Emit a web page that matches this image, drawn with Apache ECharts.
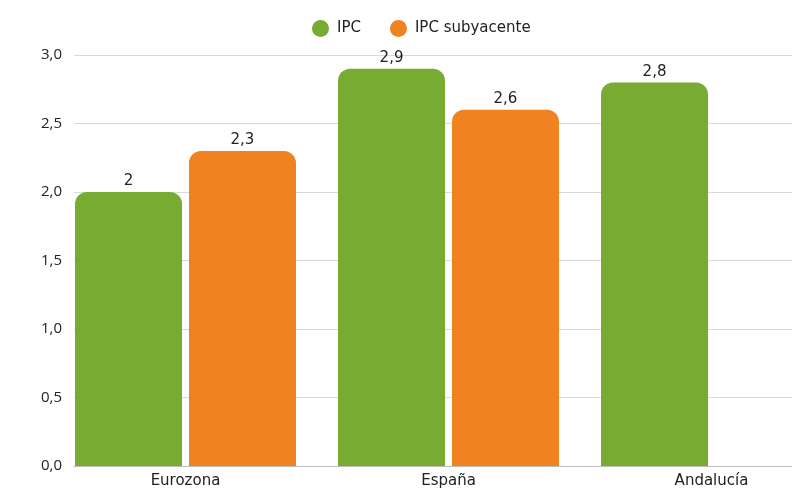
<!DOCTYPE html>
<html><head><meta charset="utf-8">
<script src="https://cdn.jsdelivr.net/npm/echarts@6/dist/echarts.min.js"></script>
<style>html,body{margin:0;padding:0;background:#fff}#c{width:792px;height:488px}</style>
</head><body><div id="c"></div>
<script>
const categories = ['Eurozona', 'España', 'Andalucía'];
const ipc = [2, 2.9, 2.8];
const subyacente = [2.3, 2.6, null];
const yTicks = { min: 0, max: 3, interval: 0.5 };

const chart = echarts.init(document.getElementById('c'), null, { renderer: 'canvas' });
const comma = v => String(v).replace('.', ',');
const labelCfg = {
  show: true, position: 'top', distance: 3,
  fontFamily: 'DejaVu Sans', fontSize: 15, color: '#222',
  formatter: p => comma(p.value)
};
chart.setOption({
  animation: false,
  legend: {
    left: 307, top: 15, icon: 'circle', itemWidth: 17, itemHeight: 17, itemGap: 29,
    textStyle: { fontFamily: 'DejaVu Sans', fontSize: 15, color: '#222', padding: [0, 0, 0, 3] },
    data: ['IPC', 'IPC subyacente']
  },
  grid: [
    { left: 54, width: 789, top: 55, bottom: 22, outerBoundsMode: 'none', containLabel: false },
    { left: 74, right: 0, top: 55, bottom: 22, outerBoundsMode: 'none', containLabel: false }
  ],
  xAxis: [
    { gridIndex: 0, type: 'category', data: categories,
      axisLine: { show: false }, axisTick: { show: false },
      axisLabel: { margin: 8, fontFamily: 'DejaVu Sans', fontSize: 15, color: '#222' } },
    { gridIndex: 1, type: 'value', min: 0, max: 1, show: true,
      axisLine: { show: true, lineStyle: { color: '#bfbfbf', width: 1 } },
      axisTick: { show: false }, axisLabel: { show: false }, splitLine: { show: false } }
  ],
  yAxis: [
    { gridIndex: 0, type: 'value', min: yTicks.min, max: yTicks.max, interval: yTicks.interval, show: false },
    { gridIndex: 1, type: 'value', min: yTicks.min, max: yTicks.max, interval: yTicks.interval,
      axisLine: { show: false }, axisTick: { show: false },
      splitLine: { lineStyle: { color: '#d9d9d9', width: 1 } },
      axisLabel: { margin: 12, fontFamily: 'Open Sans', fontSize: 15, color: '#222',
        formatter: v => v.toFixed(1).replace('.', ',') } }
  ],
  series: [
    { name: 'IPC', type: 'bar', xAxisIndex: 0, yAxisIndex: 0, data: ipc,
      barWidth: 107, barGap: '6.5%', z: 5,
      itemStyle: { color: '#77AB31', borderRadius: [12, 12, 0, 0] }, label: labelCfg },
    { name: 'IPC subyacente', type: 'bar', xAxisIndex: 0, yAxisIndex: 0, data: subyacente,
      barWidth: 107, z: 5,
      itemStyle: { color: '#F08220', borderRadius: [12, 12, 0, 0] }, label: labelCfg }
  ]
});
</script></body></html>
